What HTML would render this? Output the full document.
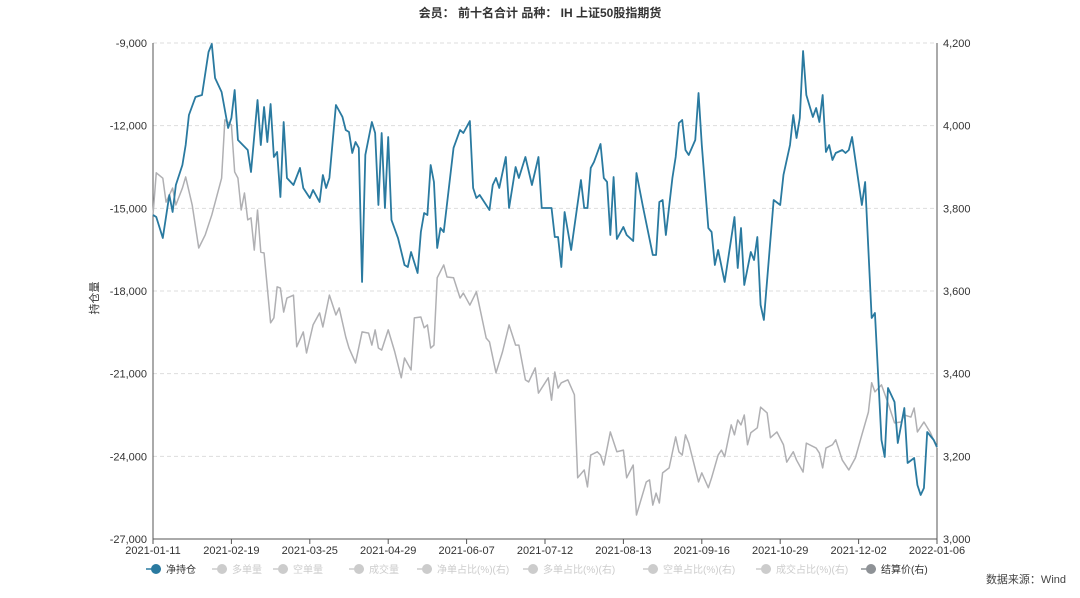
<!DOCTYPE html>
<html><head><meta charset="utf-8">
<style>
body{margin:0;background:#fff;width:1080px;height:593px;overflow:hidden;font-family:"Liberation Sans","Noto Sans CJK SC",sans-serif;}
svg text{font-family:"Liberation Sans","Noto Sans CJK SC",sans-serif;}
</style></head>
<body>
<svg id="chart" width="1080" height="593" xmlns="http://www.w3.org/2000/svg">
<text x="540" y="17" text-anchor="middle" font-size="12" font-weight="bold" fill="#333">会员： 前十名合计 品种： IH 上证50股指期货</text>
<text transform="translate(98,298) rotate(-90)" text-anchor="middle" font-size="11" fill="#333">持仓量</text>
<g id="grid"></g><g id="axes"></g><g id="series"></g><g id="legend"></g>
<text x="1066" y="583" text-anchor="end" font-size="11" fill="#444">数据来源：Wind</text>
</svg>
<script>
const dateLabels=["2021-01-11","2021-02-19","2021-03-25","2021-04-29","2021-06-07","2021-07-12","2021-08-13","2021-09-16","2021-10-29","2021-12-02","2022-01-06"];
const leftTicks=[-9000,-12000,-15000,-18000,-21000,-24000,-27000];
const rightTicks=[4200,4000,3800,3600,3400,3200,3000];
const netDays=[0,1,3,5,6,7,9,10,11,13,15,17,18,19,21,23,24,25,26,29,30,32,33,34,35,36,37,38,39,40,41,43,45,46,48,49,51,52,53,54,56,58,59,60,61,62,63,64,65,67,68,69,70,71,72,73,75,77,78,79,81,82,83,84,85,86,87,88,89,92,94,95,97,98,99,100,103,104,105,106,108,109,111,112,114,116,118,119,122,123,124,125,126,128,131,132,133,134,135,137,138,139,140,141,142,144,145,147,148,150,153,154,155,156,157,159,160,161,162,163,164,166,167,168,170,171,172,173,175,178,179,180,181,183,184,185,186,187,190,192,193,195,196,197,198,199,200,202,203,204,205,206,207,208,209,211,212,213,214,217,218,220,221,223,224,225,227,228,230,231,233,234,235,236,237,239,240];
const netValues=[-15240,-15315,-16077,-14516,-15133,-14153,-13427,-12702,-11613,-10960,-10887,-9327,-9036,-10270,-10778,-12085,-11722,-10706,-12520,-12883,-13681,-11069,-12702,-11323,-12593,-11214,-13137,-12956,-14589,-11867,-13899,-14153,-13536,-14262,-14625,-14335,-14770,-13790,-14262,-13899,-11250,-11685,-12157,-12230,-12992,-12593,-12810,-17673,-13064,-11867,-12266,-14879,-12266,-14988,-12411,-15423,-16077,-17056,-17129,-16585,-17347,-15859,-15169,-15242,-13427,-14044,-16439,-15714,-15859,-12810,-12157,-12266,-11831,-14262,-14625,-14516,-15060,-14153,-13899,-14262,-13137,-14988,-13500,-13899,-13137,-14153,-13137,-14988,-14988,-16040,-16040,-17129,-15133,-16512,-13972,-14988,-14988,-13536,-13318,-12665,-13899,-14044,-15968,-13863,-16113,-15677,-15968,-16185,-13718,-14952,-16693,-16693,-14770,-14698,-15968,-13899,-13137,-11903,-11794,-12883,-13064,-12520,-10815,-12702,-15714,-15859,-17056,-16512,-17673,-15315,-17165,-15714,-17782,-16585,-16875,-16040,-18508,-19052,-14698,-14879,-13790,-12702,-11613,-12448,-11722,-9290,-10887,-11685,-11359,-11867,-10887,-12956,-12702,-13246,-12992,-12883,-12992,-12883,-12411,-14879,-14044,-18980,-18798,-23407,-24024,-21520,-22028,-23516,-22246,-24242,-24060,-25040,-25403,-25149,-23117,-23407,-23661];
const priceDays=[0,1,3,4,6,7,9,10,12,14,16,18,21,22,24,25,26,27,28,29,30,31,32,33,34,36,37,38,39,40,41,43,44,46,47,49,51,52,54,56,57,59,60,62,64,66,67,68,69,70,72,74,76,77,79,80,82,83,84,85,86,87,89,90,92,94,95,97,99,102,103,105,107,109,111,112,114,115,117,118,121,122,123,124,125,127,129,130,132,133,134,136,137,138,140,142,144,145,147,148,151,152,153,154,155,156,158,160,161,162,163,164,167,168,170,171,173,174,175,177,178,179,180,181,182,183,185,186,188,189,191,193,194,196,197,199,200,203,204,205,206,208,209,211,213,215,217,219,220,221,223,225,227,229,230,232,233,234,236,238,240];
const priceValues=[3784,3886,3873,3815,3849,3808,3849,3876,3808,3704,3736,3784,3873,4014,4002,3888,3873,3796,3837,3772,3777,3699,3796,3694,3692,3523,3535,3610,3607,3549,3583,3590,3465,3501,3450,3518,3547,3513,3590,3542,3559,3489,3462,3426,3501,3498,3469,3506,3462,3457,3506,3453,3390,3438,3409,3535,3537,3511,3518,3462,3469,3632,3663,3634,3632,3583,3595,3566,3598,3486,3477,3402,3453,3518,3469,3469,3385,3380,3414,3353,3390,3336,3404,3365,3378,3385,3349,3148,3167,3126,3203,3211,3203,3179,3259,3211,3215,3148,3179,3058,3138,3143,3082,3111,3087,3160,3172,3247,3211,3203,3252,3232,3138,3160,3124,3148,3203,3215,3199,3276,3252,3288,3276,3300,3228,3257,3269,3319,3305,3245,3259,3228,3186,3211,3191,3162,3232,3220,3208,3172,3220,3228,3240,3191,3167,3196,3252,3307,3378,3356,3373,3329,3281,3283,3300,3295,3317,3259,3283,3257,3220];
const legendLabels=["净持仓","多单量","空单量","成交量","净单占比(%)(右)","多单占比(%)(右)","空单占比(%)(右)","成交占比(%)(右)","结算价(右)"];
const legendX=[156,222,283,359,427,533,653,766,871];

const NS="http://www.w3.org/2000/svg";
const L=153,R=937,T=43,B=539,NDAYS=240;
const xs=d=>L+(R-L)*d/NDAYS;
const yl=v=>T+(B-T)*(-9000-v)/18000;
const yr=v=>T+(B-T)*(4200-v)/1200;
function mk(tag,attrs,parent){const e=document.createElementNS(NS,tag);for(const k in attrs)e.setAttribute(k,attrs[k]);parent.appendChild(e);return e;}
const grid=document.getElementById('grid'),axes=document.getElementById('axes'),ser=document.getElementById('series'),leg=document.getElementById('legend');
leftTicks.forEach((v,i)=>{
  const y=yl(v);
  if(i<leftTicks.length-1){const g=mk('line',{x1:L,x2:R,y1:y,y2:y,stroke:'#ddd','stroke-dasharray':'4,3'},grid);
  
  }
  const t=mk('text',{x:L-6,y:y+4,'text-anchor':'end','font-size':'11',fill:'#333'},axes);t.textContent=v.toLocaleString('en-US');
  
  
});
rightTicks.forEach(v=>{
  const y=yr(v);
  const t=mk('text',{x:R+6,y:y+4,'font-size':'11',fill:'#333'},axes);t.textContent=v.toLocaleString('en-US');
  
  
});
let a=mk('line',{x1:L,x2:L,y1:T,y2:B,stroke:'#555'},axes);


a=mk('line',{x1:R,x2:R,y1:T,y2:B,stroke:'#555'},axes);


a=mk('line',{x1:L,x2:R,y1:B,y2:B,stroke:'#555'},axes);


dateLabels.forEach((d,i)=>{
  const x=xs(i*NDAYS/(dateLabels.length-1));
  const tk=mk('line',{x1:x,x2:x,y1:B,y2:B+5,stroke:'#555'},axes);
  
  
  const t=mk('text',{x:x,y:B+15,'text-anchor':'middle','font-size':'11',fill:'#333'},axes);t.textContent=d;
  
  
});
const pp=mk('polyline',{points:priceDays.map((d,i)=>xs(d)+','+yr(priceValues[i])).join(' '),fill:'none',stroke:'#b0b0b3','stroke-width':'1.5','stroke-linejoin':'round'},ser);


const np=mk('polyline',{points:netDays.map((d,i)=>xs(d)+','+yl(netValues[i])).join(' '),fill:'none',stroke:'#2a7aa0','stroke-width':'1.8','stroke-linejoin':'round'},ser);


legendLabels.forEach((lab,i)=>{
  const on=(i===0||i===8);
  const col=i===0?'#2a7aa0':(i===8?'#8e9296':'#ccc');
  const g=mk('g',{},leg);
  
  
  const x=legendX[i],y=569;
  mk('line',{x1:x-10,x2:x+5,y1:y,y2:y,stroke:col,'stroke-width':'1.5'},g);
  mk('circle',{cx:x,cy:y,r:5,fill:col},g);
  const t=mk('text',{x:x+10,y:y+4,'font-size':'10',fill:on?'#333':'#ccc'},g);t.textContent=lab;
});
</script>
</body></html>
